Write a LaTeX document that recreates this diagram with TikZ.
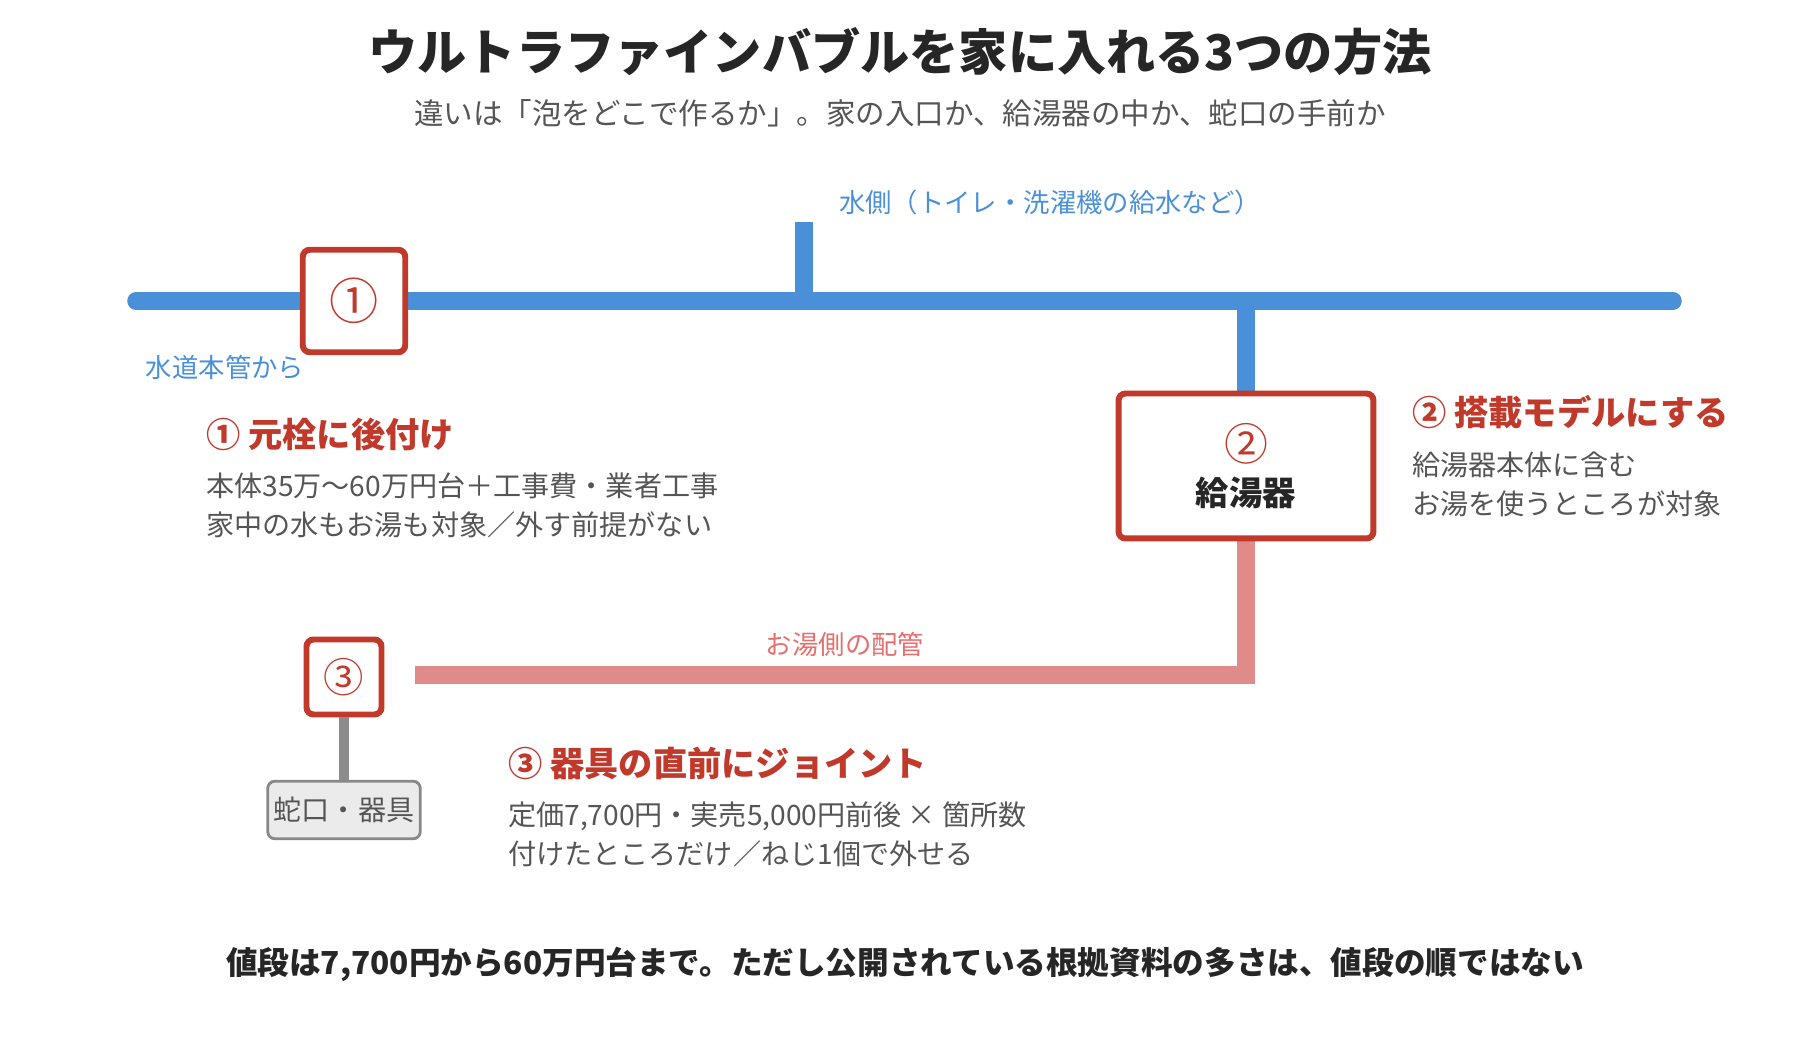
\documentclass[tikz,border=0pt]{standalone}
\usepackage{fontspec}
\setmainfont{Noto Sans CJK JP}
\usetikzlibrary{positioning}
\definecolor{pipeblue}{HTML}{4A90D9}
\definecolor{boxred}{HTML}{C0392B}
\definecolor{hotpink}{HTML}{E08A8A}
\definecolor{textgrey}{HTML}{555555}
\begin{document}
\begin{tikzpicture}[x=0.02cm,y=-0.02cm,
    stepbox/.style={draw=boxred, line width=3.4pt, rounded corners=4pt, fill=white, text=boxred, align=center},
    head/.style={anchor=west, text=boxred, font=\fontsize{19.5}{22}\selectfont\bfseries},
    body/.style={anchor=north west, text=textgrey, align=left, font=\fontsize{16}{22}\selectfont},
    pipe/.style={line width=10pt},
    note/.style={font=\fontsize{15}{17}\selectfont}]
  \useasboundingbox (0,0) rectangle (1800,1040);
  % title
  \node[text=black!85] (title) at (900,52) {\fontsize{28}{32}\selectfont\bfseries ウルトラファインバブルを家に入れる3つの方法};
  \node[text=textgrey, font=\fontsize{16.8}{19}\selectfont] (sub) at (900,113) {違いは「泡をどこで作るか」。家の入口か、給湯器の中か、蛇口の手前か};
  % pipes
  \coordinate (inlet) at (136,301);
  \coordinate (outlet) at (1673,301);
  \coordinate (waterTop) at (804,222);
  \coordinate (waterJoin) at (804,301);
  \coordinate (heaterJoin) at (1246,301);
  \coordinate (hotCorner) at (1246,675);
  \coordinate (hotEnd) at (415,675);
  \draw[pipeblue, pipe, line cap=round] (inlet) -- (outlet);
  \draw[pipeblue, pipe] (waterTop) -- (waterJoin);
  \draw[pipeblue, pipe] (heaterJoin) -- (1246,400);
  \draw[hotpink, pipe] (1246,530) -- (hotCorner) -- (hotEnd);
  % boxes
  \node[stepbox, minimum size=2.05cm, font=\fontsize{28}{32}\selectfont] (main) at (354,301) {①};
  \node[stepbox, minimum width=5.1cm, minimum height=2.9cm, font=\fontsize{25}{28}\selectfont] (heater) at (1246,466)
    {②\\[-2pt]{\color{black!85}\fontsize{19}{22}\selectfont\bfseries 給湯器}};
  \node[stepbox, minimum size=1.5cm, font=\fontsize{23}{26}\selectfont] (tap) at (344,677) {③};
  \node[draw=textgrey!70, line width=1.6pt, rounded corners=4pt, fill=black!8, text=textgrey,
        minimum width=3.05cm, minimum height=1.15cm, font=\fontsize{16}{18}\selectfont] (fixture) at (344,810) {蛇口・器具};
  \draw[black!45, line width=6pt] (tap) -- (fixture);
  % pipe labels
  \node[note, text=pipeblue, anchor=west] (waterLbl) at (833,202) {水側（トイレ・洗濯機の給水など）};
  \node[note, text=pipeblue] (inletLbl) at (225,367) {水道本管から};
  \node[note, text=hotpink!80!red] (hotLbl) at (845,644) {お湯側の配管};
  % descriptions
  \node[head] (h1) at (200,434) {① 元栓に後付け};
  \node[body] (b1) at (200,467) {本体35万～60万円台＋工事費・業者工事\\家中の水もお湯も対象／外す前提がない};
  \node[head] (h2) at (1406,412) {② 搭載モデルにする};
  \node[body] (b2) at (1406,446) {給湯器本体に含む\\お湯を使うところが対象};
  \node[head] (h3) at (502,763) {③ 器具の直前にジョイント};
  \node[body] (b3) at (502,796) {定価7,700円・実売5,000円前後 × 箇所数\\付けたところだけ／ねじ1個で外せる};
  % footer
  \node[text=black!85, font=\fontsize{18}{21}\selectfont\bfseries] (foot) at (905,964) {値段は7,700円から60万円台まで。ただし公開されている根拠資料の多さは、値段の順ではない};
\end{tikzpicture}
\end{document}
